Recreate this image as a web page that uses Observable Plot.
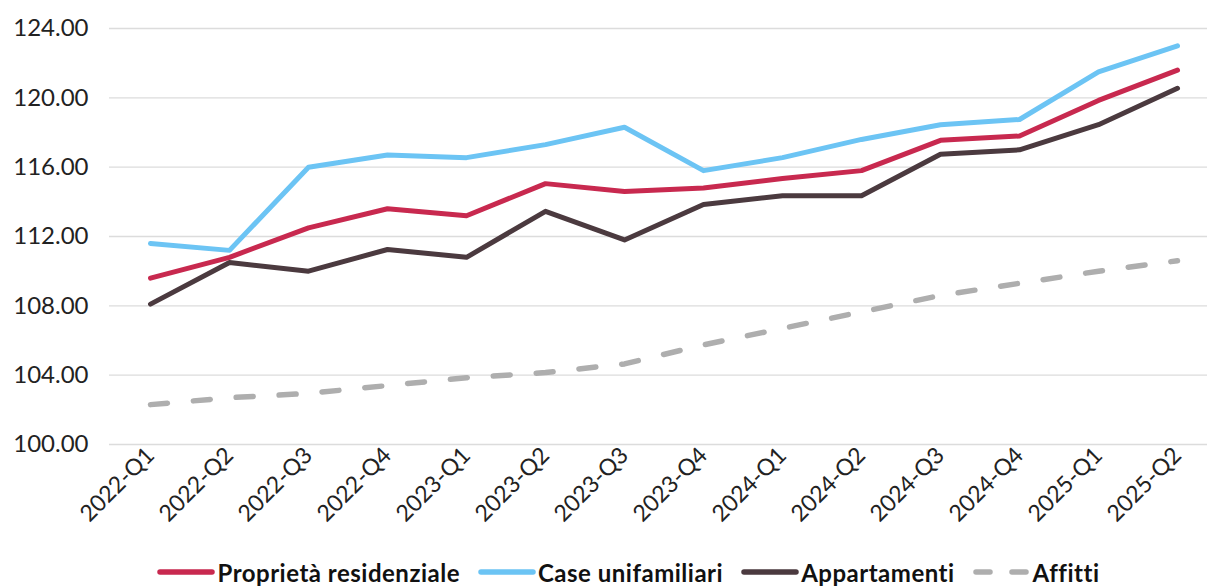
<!DOCTYPE html>
<html><head><meta charset="utf-8">
<script src="https://cdn.jsdelivr.net/npm/d3@7"></script>
<script src="https://cdn.jsdelivr.net/npm/@observablehq/plot@0.6"></script>
<style>
body{margin:0;background:#fff;font-family:Lato,sans-serif;width:1207px;overflow:hidden;}
#legend{display:flex;justify-content:center;align-items:center;height:30px;font-weight:700;font-size:24px;letter-spacing:0.5px;color:#111;padding-left:50px;}
.item{display:flex;align-items:center;margin:0 9px;}
.item svg{margin-right:2px;}
</style></head><body><div id="chart"></div><div id="legend"></div>
<script>
const quarters = ["2022-Q1","2022-Q2","2022-Q3","2022-Q4","2023-Q1","2023-Q2","2023-Q3","2023-Q4","2024-Q1","2024-Q2","2024-Q3","2024-Q4","2025-Q1","2025-Q2"];
const residenziale = [109.6,110.8,112.5,113.6,113.2,115.05,114.6,114.8,115.35,115.8,117.55,117.8,119.85,121.6];
const unifamiliari = [111.6,111.2,116.0,116.7,116.55,117.3,118.3,115.8,116.55,117.6,118.45,118.75,121.5,123.0];
const appartamenti = [108.1,110.5,110.0,111.25,110.8,113.45,111.8,113.85,114.35,114.35,116.75,117.0,118.45,120.55];
const affitti = [102.3,102.7,102.95,103.4,103.85,104.15,104.65,105.75,106.7,107.65,108.6,109.3,110.0,110.6];
const seriesNames = ["Proprietà residenziale","Case unifamiliari","Appartamenti","Affitti"];
const seriesColors = ["#C8294F","#6CC4F4","#4B3A3F","#AEAEAE"];
const yTicks = [100,104,108,112,116,120,124];

const rows = (vals) => quarters.map((q,i)=>({q, v: vals[i]}));

const plot = Plot.plot({
  width: 1207,
  height: 557,
  marginLeft: 109,
  marginRight: 0,
  marginTop: 28,
  marginBottom: 113,
  style: {fontFamily: "Lato, sans-serif", fontSize: "23px", color: "#222", background: "#fff"},
  x: {type: "point", domain: quarters, padding: 0, insetLeft: 39, insetRight: 29},
  y: {domain: [100,124]},
  marks: [
    Plot.ruleY(yTicks, {stroke: "#dcdcdc", strokeWidth: 1.3}),
    Plot.axisY({ticks: yTicks, tickFormat: d => d.toFixed(2), tickSize: 0, tickPadding: 21, fontSize: 24, label: null}),
    Plot.axisX({tickRotate: -45, tickSize: 0, tickPadding: 7, fontSize: 23, label: null}),
    Plot.line(rows(affitti), {x: "q", y: "v", stroke: seriesColors[3], strokeWidth: 5.5, strokeDasharray: "17,26", strokeLinecap: "round"}),
    Plot.line(rows(appartamenti), {x: "q", y: "v", stroke: seriesColors[2], strokeWidth: 5, strokeLinejoin: "round"}),
    Plot.line(rows(residenziale), {x: "q", y: "v", stroke: seriesColors[0], strokeWidth: 5, strokeLinejoin: "round"}),
    Plot.line(rows(unifamiliari), {x: "q", y: "v", stroke: seriesColors[1], strokeWidth: 5, strokeLinejoin: "round"})
  ]
});
document.getElementById("chart").appendChild(plot);

const legend = document.getElementById("legend");
seriesNames.forEach((name, i) => {
  const item = document.createElement("div");
  item.className = "item";
  const dashed = i === 3;
  item.innerHTML = `<svg width="58" height="10"><line x1="3" y1="5" x2="55" y2="5" stroke="${seriesColors[i]}" stroke-width="5.5" stroke-linecap="round" ${dashed ? 'stroke-dasharray="14,22"' : ''}/></svg><span>${name}</span>`;
  legend.appendChild(item);
});
</script></body></html>
